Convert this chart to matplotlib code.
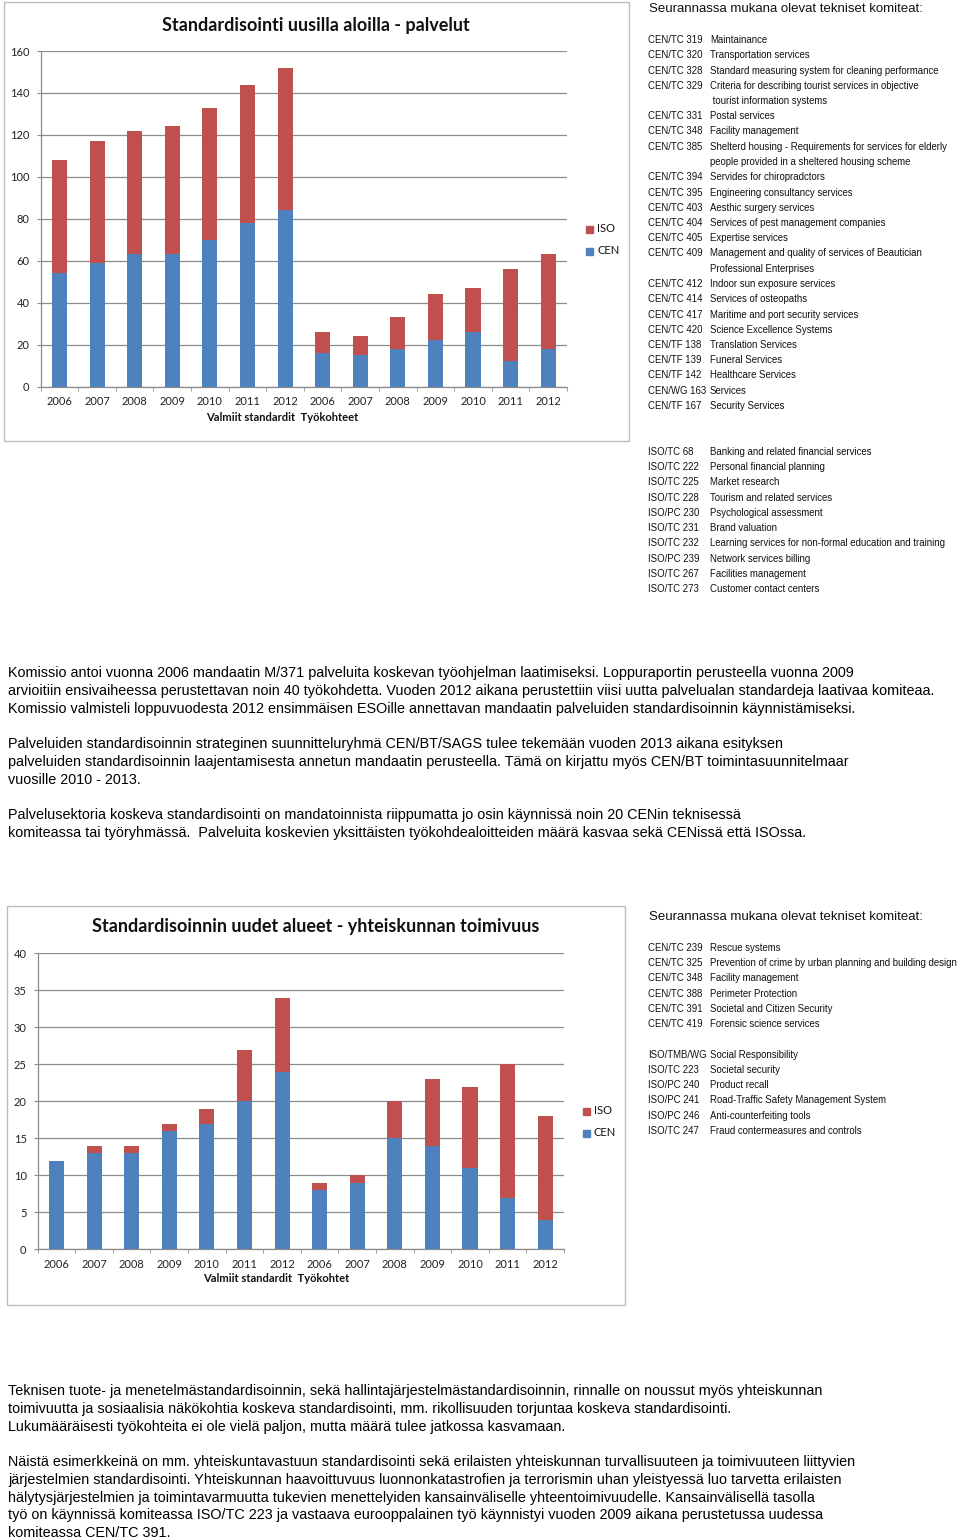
import matplotlib
matplotlib.use("Agg")
import matplotlib.pyplot as plt
from matplotlib.patches import Rectangle

# ---------------- data ----------------
years = ["2006", "2007", "2008", "2009", "2010", "2011", "2012"]
categories = years + years  # Valmiit standardit (7) + Työkohteet (7)

# Chart 1: Standardisointi uusilla aloilla - palvelut
c1_cen = [54, 59, 63, 63, 70, 78, 84, 16, 15, 18, 22, 26, 12, 18]
c1_iso = [54, 58, 59, 61, 63, 66, 68, 10, 9, 15, 22, 21, 44, 45]
c1_title = "Standardisointi uusilla aloilla - palvelut"
c1_xtitle = "Valmiit standardit  Työkohteet"
c1_yticks = [0, 20, 40, 60, 80, 100, 120, 140, 160]

# Chart 2: Standardisoinnin uudet alueet - yhteiskunnan toimivuus
c2_cen = [12, 13, 13, 16, 17, 20, 24, 8, 9, 15, 14, 11, 7, 4]
c2_iso = [0, 1, 1, 1, 2, 7, 10, 1, 1, 5, 9, 11, 18, 14]
c2_title = "Standardisoinnin uudet alueet - yhteiskunnan toimivuus"
c2_xtitle = "Valmiit standardit  Työkohtet"
c2_yticks = [0, 5, 10, 15, 20, 25, 30, 35, 40]

header = "Seurannassa mukana olevat tekniset komiteat:"

list1 = [
    ("CEN/TC 319", "Maintainance"),
    ("CEN/TC 320", "Transportation services"),
    ("CEN/TC 328", "Standard measuring system for cleaning performance"),
    ("CEN/TC 329", "Criteria for describing tourist services in objective"),
    ("", " tourist information systems"),
    ("CEN/TC 331", "Postal services"),
    ("CEN/TC 348", "Facility management"),
    ("CEN/TC 385", "Shelterd housing - Requirements for services for elderly"),
    ("", "people provided in a sheltered housing scheme"),
    ("CEN/TC 394", "Servides for chiropradctors"),
    ("CEN/TC 395", "Engineering consultancy services"),
    ("CEN/TC 403", "Aesthic surgery services"),
    ("CEN/TC 404", "Services of pest management companies"),
    ("CEN/TC 405", "Expertise services"),
    ("CEN/TC 409", "Management and quality of services of Beautician"),
    ("", "Professional Enterprises"),
    ("CEN/TC 412", "Indoor sun exposure services"),
    ("CEN/TC 414", "Services of osteopaths"),
    ("CEN/TC 417", "Maritime and port security services"),
    ("CEN/TC 420", "Science Excellence Systems"),
    ("CEN/TF 138", "Translation Services"),
    ("CEN/TF 139", "Funeral Services"),
    ("CEN/TF 142", "Healthcare Services"),
    ("CEN/WG 163", "Services"),
    ("CEN/TF 167", "Security Services"),
]
list1_iso = [
    ("ISO/TC 68", "Banking and related financial services"),
    ("ISO/TC 222", "Personal financial planning"),
    ("ISO/TC 225", "Market research"),
    ("ISO/TC 228", "Tourism and related services"),
    ("ISO/PC 230", "Psychological assessment"),
    ("ISO/TC 231", "Brand valuation"),
    ("ISO/TC 232", "Learning services for non-formal education and training"),
    ("ISO/PC 239", "Network services billing"),
    ("ISO/TC 267", "Facilities management"),
    ("ISO/TC 273", "Customer contact centers"),
]
list2 = [
    ("CEN/TC 239", "Rescue systems"),
    ("CEN/TC 325", "Prevention of crime by urban planning and building design"),
    ("CEN/TC 348", "Facility management"),
    ("CEN/TC 388", "Perimeter Protection"),
    ("CEN/TC 391", "Societal and Citizen Security"),
    ("CEN/TC 419", "Forensic science services"),
]
list2_iso = [
    ("ISO/TMB/WG", "Social Responsibility"),
    ("ISO/TC 223", "Societal security"),
    ("ISO/PC 240", "Product recall"),
    ("ISO/PC 241", "Road-Traffic Safety Management System"),
    ("ISO/PC 246", "Anti-counterfeiting tools"),
    ("ISO/TC 247", "Fraud contermeasures and controls"),
]

para1 = [
    "Komissio antoi vuonna 2006 mandaatin M/371 palveluita koskevan työohjelman laatimiseksi. Loppuraportin perusteella vuonna 2009",
    "arvioitiin ensivaiheessa perustettavan noin 40 työkohdetta. Vuoden 2012 aikana perustettiin viisi uutta palvelualan standardeja laativaa komiteaa.",
    "Komissio valmisteli loppuvuodesta 2012 ensimmäisen ESOille annettavan mandaatin palveluiden standardisoinnin käynnistämiseksi.",
]
para2 = [
    "Palveluiden standardisoinnin strateginen suunnitteluryhmä CEN/BT/SAGS tulee tekemään vuoden 2013 aikana esityksen",
    "palveluiden standardisoinnin laajentamisesta annetun mandaatin perusteella. Tämä on kirjattu myös CEN/BT toimintasuunnitelmaar",
    "vuosille 2010 - 2013.",
]
para3 = [
    "Palvelusektoria koskeva standardisointi on mandatoinnista riippumatta jo osin käynnissä noin 20 CENin teknisessä",
    "komiteassa tai työryhmässä.  Palveluita koskevien yksittäisten työkohdealoitteiden määrä kasvaa sekä CENissä että ISOssa.",
]
para4 = [
    "Teknisen tuote- ja menetelmästandardisoinnin, sekä hallintajärjestelmästandardisoinnin, rinnalle on noussut myös yhteiskunnan",
    "toimivuutta ja sosiaalisia näkökohtia koskeva standardisointi, mm. rikollisuuden torjuntaa koskeva standardisointi.",
    "Lukumääräisesti työkohteita ei ole vielä paljon, mutta määrä tulee jatkossa kasvamaan.",
]
para5 = [
    "Näistä esimerkkeinä on mm. yhteiskuntavastuun standardisointi sekä erilaisten yhteiskunnan turvallisuuteen ja toimivuuteen liittyvien",
    "järjestelmien standardisointi. Yhteiskunnan haavoittuvuus luonnonkatastrofien ja terrorismin uhan yleistyessä luo tarvetta erilaisten",
    "hälytysjärjestelmien ja toimintavarmuutta tukevien menettelyiden kansainväliselle yhteentoimivuudelle. Kansainvälisellä tasolla",
    "työ on käynnissä komiteassa ISO/TC 223 ja vastaava eurooppalainen työ käynnistyi vuoden 2009 aikana perustetussa uudessa",
    "komiteassa CEN/TC 391.",
]

# ---------------- styling ----------------
W, H = 960, 1540
BLUE = "#4F81BD"
RED = "#C0504D"
GRID = "#8C8C8C"
FRAME = "#BEBEBE"
CHART_FONT = "Lato"
TEXT_FONT = "Liberation Sans"

fig = plt.figure(figsize=(W / 100, H / 100), dpi=100)
fig.patch.set_facecolor("white")


def fx(x):
    return x / W


def fy(y):
    return 1 - y / H


def ftext(x, y, s, **kw):
    kw.setdefault("va", "center")
    fig.text(fx(x), fy(y), s, **kw)


def frame(x0, y0, x1, y1):
    fig.patches.append(Rectangle((fx(x0), fy(y1)), fx(x1) - fx(x0), fy(y0) - fy(y1),
                                 transform=fig.transFigure, fill=False,
                                 edgecolor=FRAME, linewidth=1.0))


def chart(left, right, top, bottom, cen, iso, yticks, title, title_xy, xtitle, xtitle_xy, leg_xy):
    ax = fig.add_axes([fx(left), fy(bottom), fx(right) - fx(left), fy(top) - fy(bottom)])
    x = list(range(len(categories)))
    ax.bar(x, cen, width=0.4, color=BLUE, zorder=3, label="CEN")
    ax.bar(x, iso, width=0.4, bottom=cen, color=RED, zorder=3, label="ISO")
    ax.set_xlim(-0.5, len(categories) - 0.5)
    ax.set_ylim(yticks[0], yticks[-1])
    ax.set_yticks(yticks)
    ax.set_yticklabels([str(v) for v in yticks], fontsize=8, family=CHART_FONT, color="#222222")
    ax.set_xticks(x)
    ax.set_xticklabels(categories, fontsize=8, family=CHART_FONT, color="#222222")
    ax.set_xticks([i - 0.5 for i in range(len(categories) + 1)], minor=True)
    ax.tick_params(axis="x", which="major", length=0, pad=7)
    ax.tick_params(axis="x", which="minor", length=3, color=GRID, direction="out")
    ax.tick_params(axis="y", length=3, color=GRID, direction="out", pad=5)
    ax.grid(axis="y", color=GRID, linewidth=0.9, zorder=0)
    for s in ["top", "right"]:
        ax.spines[s].set_visible(False)
    for s in ["left", "bottom"]:
        ax.spines[s].set_color(GRID)
        ax.spines[s].set_linewidth(0.9)
    ftext(title_xy[0], title_xy[1], title, ha="center", fontsize=13, fontweight="bold",
          family=CHART_FONT, color="#111111")
    ftext(xtitle_xy[0], xtitle_xy[1], xtitle, ha="center", fontsize=8, fontweight="bold",
          family=CHART_FONT, color="#111111")
    # legend (ISO above CEN)
    lx, ly = leg_xy
    for i, (lab, col) in enumerate([("ISO", RED), ("CEN", BLUE)]):
        yy = ly + i * 22
        fig.patches.append(Rectangle((fx(lx - 4), fy(yy + 3.5)), fx(7), 7 / H,
                                     transform=fig.transFigure, color=col))
        ftext(lx + 7, yy, lab, ha="left", fontsize=8, family=CHART_FONT, color="#111111")
    return ax


def comm_list(items, x_code, x_desc, y0, step):
    for i, (code, desc) in enumerate(items):
        yy = y0 + i * step
        if code:
            ftext(x_code, yy, code, ha="left", fontsize=6.95, family=TEXT_FONT, color="#111111")
        ftext(x_desc, yy, desc, ha="left", fontsize=6.95, family=TEXT_FONT, color="#111111")


def paragraph(lines, y0, step=17.8):
    for i, line in enumerate(lines):
        ftext(8, y0 + i * step, line, ha="left", fontsize=10.4, family=TEXT_FONT, color="#000000")


# ---------------- chart 1 ----------------
frame(4, 2, 629, 441)
chart(40.7, 567, 51, 386.5, c1_cen, c1_iso, c1_yticks, c1_title, (316, 25),
      c1_xtitle, (282, 418), (590, 229))

# ---------------- chart 2 ----------------
frame(7, 906, 625, 1305)
chart(37.7, 564, 953.3, 1249.3, c2_cen, c2_iso, c2_yticks, c2_title, (316, 927),
      c2_xtitle, (276, 1279), (587, 1111))

# ---------------- right-hand lists ----------------
ftext(649, 8.5, header, ha="left", fontsize=9.5, family=TEXT_FONT, color="#111111")
comm_list(list1, 648, 710, 40, 15.25)
comm_list(list1_iso, 648, 710, 452, 15.22)
ftext(649, 916.5, header, ha="left", fontsize=9.5, family=TEXT_FONT, color="#111111")
comm_list(list2, 648, 710, 948, 15.2)
comm_list(list2_iso, 648, 710, 1054.5, 15.3)

# ---------------- paragraphs ----------------
paragraph(para1, 673)
paragraph(para2, 744)
paragraph(para3, 815)
paragraph(para4, 1391)
paragraph(para5, 1462)

fig.savefig("out.png", dpi=100)
